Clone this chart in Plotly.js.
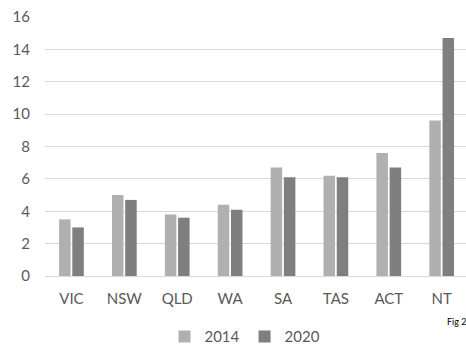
<!DOCTYPE html>
<html>
<head>
<meta charset="utf-8">
<script src="https://cdn.plot.ly/plotly-3.0.1.min.js"></script>
<style>html,body{margin:0;padding:0;background:#fff;}#chart{width:466px;height:354px;}</style>
</head>
<body>
<div id="chart"></div>
<script>
const categories = ["VIC", "NSW", "QLD", "WA", "SA", "TAS", "ACT", "NT"];
const values2014 = [3.5, 5.0, 3.8, 4.4, 6.7, 6.2, 7.6, 9.6];
const values2020 = [3.0, 4.7, 3.6, 4.1, 6.1, 6.1, 6.7, 14.7];
const seriesNames = ["2014", "2020"];
const yTicks = [0, 2, 4, 6, 8, 10, 12, 14, 16];
const figLabel = "Fig 2";

const textColor = "#595959";
const font = {family: "Lato, 'Open Sans', sans-serif", size: 15, color: textColor};

const traces = [
  {type: "bar", name: seriesNames[0], x: categories, y: values2014, marker: {color: "#b0b0b0"}},
  {type: "bar", name: seriesNames[1], x: categories, y: values2020, marker: {color: "#7f7f7f"}}
];

const layout = {
  width: 466, height: 354,
  margin: {l: 44.5, r: 0, t: 16.7, b: 71},
  paper_bgcolor: "#fff", plot_bgcolor: "#fff",
  font: font,
  barmode: "group", bargap: 0.5, bargroupgap: 0.13,
  showlegend: true,
  legend: {orientation: "h", x: 0.475, xanchor: "center", y: -0.235, yanchor: "middle",
           font: {family: font.family, size: 15, color: textColor}, itemwidth: 30},
  xaxis: {type: "category", range: [-0.5, 7.46], showgrid: false, showline: false, zeroline: false,
          ticks: "", ticklabelstandoff: 12, tickfont: font, fixedrange: true},
  yaxis: {range: [0, 16], tickvals: yTicks, ticktext: yTicks.map(String), showgrid: true, gridcolor: "#d9d9d9", gridwidth: 1,
          zeroline: true, zerolinecolor: "#d9d9d9", zerolinewidth: 1, showline: false, ticks: "",
          ticklabelstandoff: 14, tickfont: font, fixedrange: true},
  annotations: [{text: figLabel, xref: "paper", yref: "paper", x: 0.95, y: -0.175, xanchor: "left", yanchor: "middle",
                 showarrow: false, font: {family: "Lato, sans-serif", size: 9, color: "#000"}}]
};

Plotly.newPlot("chart", traces, layout, {displayModeBar: false, staticPlot: true});
</script>
</body>
</html>
